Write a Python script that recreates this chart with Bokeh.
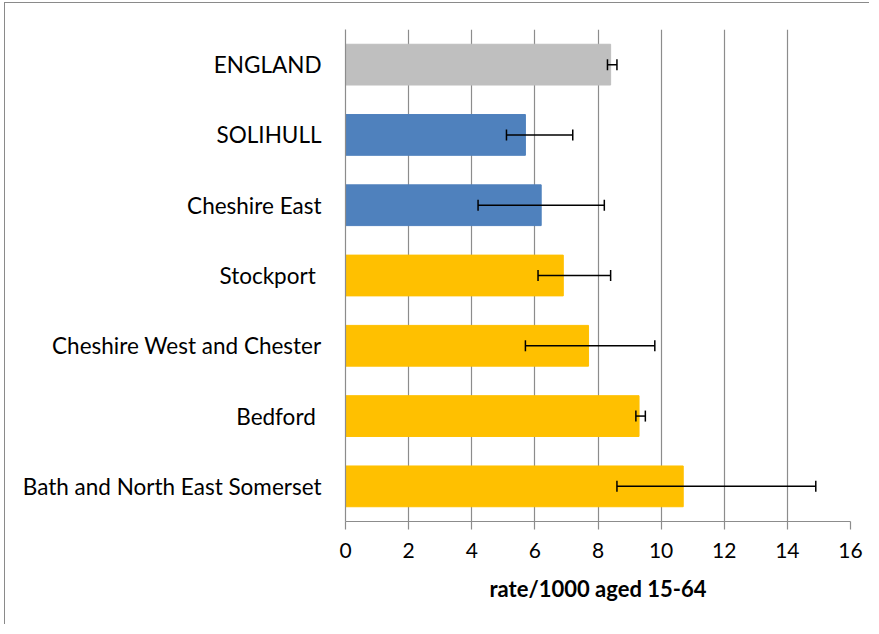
from bokeh.plotting import figure
from bokeh.models import ColumnDataSource, Whisker, TeeHead, FactorRange, Range1d, FixedTicker
from bokeh.embed import file_html
from bokeh.resources import INLINE

# data (top to bottom as shown)
categories = ["ENGLAND", "SOLIHULL", "Cheshire East", "Stockport ",
              "Cheshire West and Chester", "Bedford ", "Bath and North East Somerset"]
rates = [8.4, 5.7, 6.2, 6.9, 7.7, 9.3, 10.7]
lower_ci = [8.3, 5.1, 4.2, 6.1, 5.7, 9.2, 8.6]
upper_ci = [8.6, 7.2, 8.2, 8.4, 9.8, 9.5, 14.9]
groups = ["England", "Solihull", "Solihull", "Other", "Other", "Other", "Other"]
x_ticks = [0, 2, 4, 6, 8, 10, 12, 14, 16]

group_colors = {"England": "#BFBFBF", "Solihull": "#4F81BD", "Other": "#FFC000"}

src = ColumnDataSource(dict(
    cat=categories, rate=rates, lo=lower_ci, hi=upper_ci,
    color=[group_colors[g] for g in groups],
))

FONT = "Lato"

p = figure(
    width=865, height=622,
    y_range=FactorRange(factors=list(reversed(categories)), range_padding=0),
    x_range=Range1d(0, 16),
    output_backend="svg", toolbar_location=None,
    min_border_left=340, min_border_right=20, min_border_top=26, min_border_bottom=104,
)
p.styles = {"border-left": "1.5px solid #8a8a8a", "border-top": "1.5px solid #8a8a8a",
            "margin-left": "4px", "margin-top": "2px"}

p.hbar(y="cat", left=0, right="rate", height=0.58, color="color", source=src)

w = Whisker(source=src, base="cat", lower="lo", upper="hi", dimension="width",
            line_color="black", line_width=1.5, level="overlay",
            lower_head=TeeHead(size=11, line_color="black", line_width=1.5),
            upper_head=TeeHead(size=11, line_color="black", line_width=1.5))
p.add_layout(w)

p.outline_line_color = None
p.ygrid.grid_line_color = None
p.xgrid.ticker = FixedTicker(ticks=x_ticks)
p.xgrid.grid_line_color = "#8c8c8c"
p.xgrid.grid_line_width = 1.2

p.xaxis.ticker = FixedTicker(ticks=x_ticks)
p.xaxis.axis_line_color = "#8c8c8c"
p.xaxis.axis_line_width = 1.2
p.xaxis.major_tick_line_color = "#8c8c8c"
p.xaxis.major_tick_line_width = 1.2
p.xaxis.major_tick_out = 8
p.xaxis.major_tick_in = 0
p.xaxis.minor_tick_line_color = None
p.xaxis.major_label_text_font = FONT
p.xaxis.major_label_text_font_size = "21px"
p.xaxis.major_label_text_color = "black"
p.xaxis.major_label_standoff = 13
p.xaxis.axis_label = "rate/1000 aged 15-64"
p.xaxis.axis_label_text_font = FONT
p.xaxis.axis_label_text_font_style = "bold"
p.xaxis.axis_label_text_font_size = "22px"
p.xaxis.axis_label_text_color = "black"
p.xaxis.axis_label_standoff = 14

p.yaxis.axis_line_color = "#8c8c8c"
p.yaxis.axis_line_width = 1.2
p.yaxis.major_tick_line_color = None
p.yaxis.minor_tick_line_color = None
p.yaxis.major_label_text_font = FONT
p.yaxis.major_label_text_font_size = "22.5px"
p.yaxis.major_label_text_color = "black"
p.yaxis.major_label_standoff = 18

open("out.html", "w").write(file_html(p, INLINE))
